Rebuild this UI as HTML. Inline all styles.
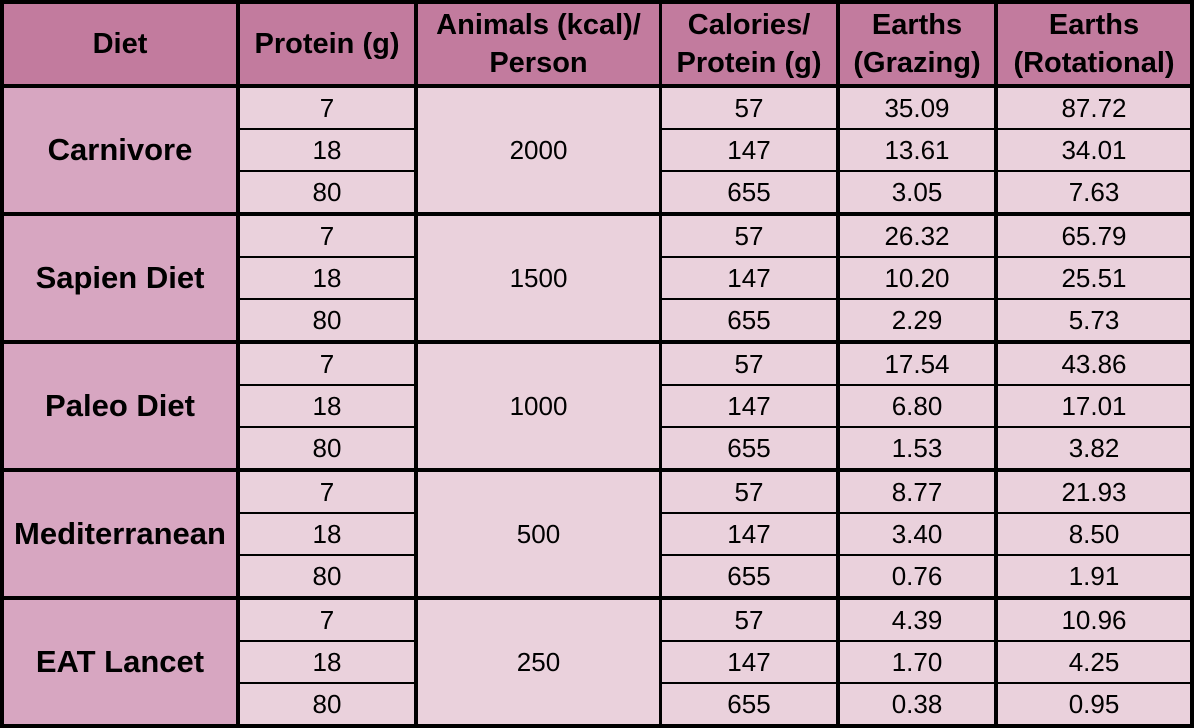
<!DOCTYPE html>
<html><head><meta charset="utf-8"><style>
body{margin:0;width:1194px;height:728px;background:#000;position:relative;overflow:hidden;font-family:"Liberation Sans",Arial,Helvetica,sans-serif;}
.c{position:absolute;display:flex;align-items:center;justify-content:center;text-align:center;color:#000;}
.h{background:#c27b9e;font-weight:bold;font-size:29px;line-height:38px;}
.d{background:#d7a6c1;font-weight:bold;font-size:31px;}
.v{background:#ead1dc;font-size:26px;}
</style></head><body>
<div class="c h" style="left:4px;top:4px;width:232px;height:80px">Diet</div>
<div class="c h" style="left:240px;top:4px;width:174px;height:80px">Protein (g)</div>
<div class="c h" style="left:418px;top:4px;width:241px;height:80px">Animals (kcal)/<br>Person</div>
<div class="c h" style="left:662px;top:4px;width:174px;height:80px">Calories/<br>Protein (g)</div>
<div class="c h" style="left:840px;top:4px;width:154px;height:80px">Earths<br>(Grazing)</div>
<div class="c h" style="left:998px;top:4px;width:192px;height:80px">Earths<br>(Rotational)</div>
<div id="g"></div>
<script>
var groups=[["Carnivore","2000",[["35.09","87.72"],["13.61","34.01"],["3.05","7.63"]]],
["Sapien Diet","1500",[["26.32","65.79"],["10.20","25.51"],["2.29","5.73"]]],
["Paleo Diet","1000",[["17.54","43.86"],["6.80","17.01"],["1.53","3.82"]]],
["Mediterranean","500",[["8.77","21.93"],["3.40","8.50"],["0.76","1.91"]]],
["EAT Lancet","250",[["4.39","10.96"],["1.70","4.25"],["0.38","0.95"]]]];
var prot=["7","18","80"],cal=["57","147","655"],h="";
function cell(cls,l,t,w,hh,txt){return '<div class="c '+cls+'" style="left:'+l+'px;top:'+t+'px;width:'+w+'px;height:'+hh+'px">'+txt+'</div>';}
groups.forEach(function(g,i){var top=88+128*i;
h+=cell("d",4,top,232,124,g[0]);
h+=cell("v",418,top,241,124,g[1]);
for(var r=0;r<3;r++){var t=top+42*r;
h+=cell("v",240,t,174,40,prot[r]);
h+=cell("v",662,t,174,40,cal[r]);
h+=cell("v",840,t,154,40,g[2][r][0]);
h+=cell("v",998,t,192,40,g[2][r][1]);}
});
document.getElementById("g").outerHTML=h;
</script>
</body></html>
